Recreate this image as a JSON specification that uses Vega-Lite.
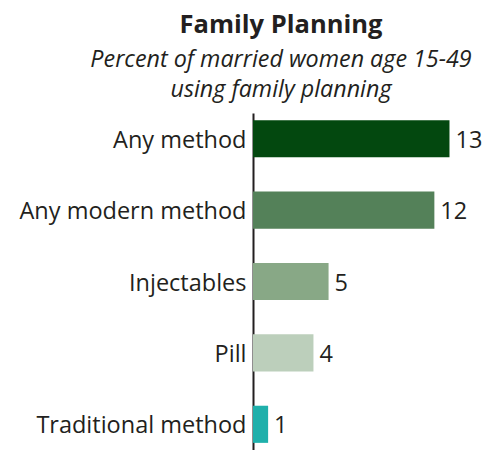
{
  "$schema": "https://vega.github.io/schema/vega-lite/v6.json",
  "autosize": "none",
  "padding": {"left": 253, "top": 113, "right": 0, "bottom": 0},
  "width": 232,
  "height": 337,
  "background": "white",
  "title": {
    "text": "Family Planning",
    "subtitle": ["Percent of married women age 15-49", "using family planning"],
    "anchor": "middle",
    "frame": "group",
    "dx": -88,
    "font": "Open Sans",
    "fontSize": 25.5,
    "fontWeight": "bold",
    "color": "#231f20",
    "subtitleFont": "Open Sans",
    "subtitleFontSize": 23.3,
    "subtitleFontStyle": "italic",
    "subtitleColor": "#231f20",
    "subtitleLineHeight": 30,
    "subtitlePadding": 10,
    "offset": 12
  },
  "data": {
    "values": [
      {"method": "Any method", "value": 13},
      {"method": "Any modern method", "value": 12},
      {"method": "Injectables", "value": 5},
      {"method": "Pill", "value": 4},
      {"method": "Traditional method", "value": 1}
    ]
  },
  "encoding": {
    "y": {
      "field": "method",
      "type": "nominal",
      "sort": null,
      "scale": {"paddingInner": 0.48, "paddingOuter": 0.1},
      "axis": {
        "title": null,
        "domainColor": "#231f20",
        "domainWidth": 2,
        "ticks": false,
        "labelFont": "Open Sans",
        "labelFontSize": 23.5,
        "labelColor": "#231f20",
        "labelPadding": 7,
        "labelOffset": 2,
        "labelLimit": 300
      }
    },
    "x": {
      "field": "value",
      "type": "quantitative",
      "scale": {"domain": [0, 15.35]},
      "axis": null
    }
  },
  "layer": [
    {
      "mark": {"type": "bar"},
      "encoding": {
        "color": {
          "field": "method",
          "type": "nominal",
          "sort": null,
          "legend": null,
          "scale": {
            "domain": ["Any method", "Any modern method", "Injectables", "Pill", "Traditional method"],
            "range": ["#03480f", "#548159", "#88a886", "#bccfbb", "#1fb0ab"]
          }
        }
      }
    },
    {
      "mark": {"type": "text", "align": "left", "baseline": "middle", "dx": 6, "dy": 2, "font": "Open Sans", "fontSize": 23.5, "color": "#231f20"},
      "encoding": {"text": {"field": "value", "type": "quantitative"}}
    }
  ],
  "config": {"view": {"stroke": null}}
}
